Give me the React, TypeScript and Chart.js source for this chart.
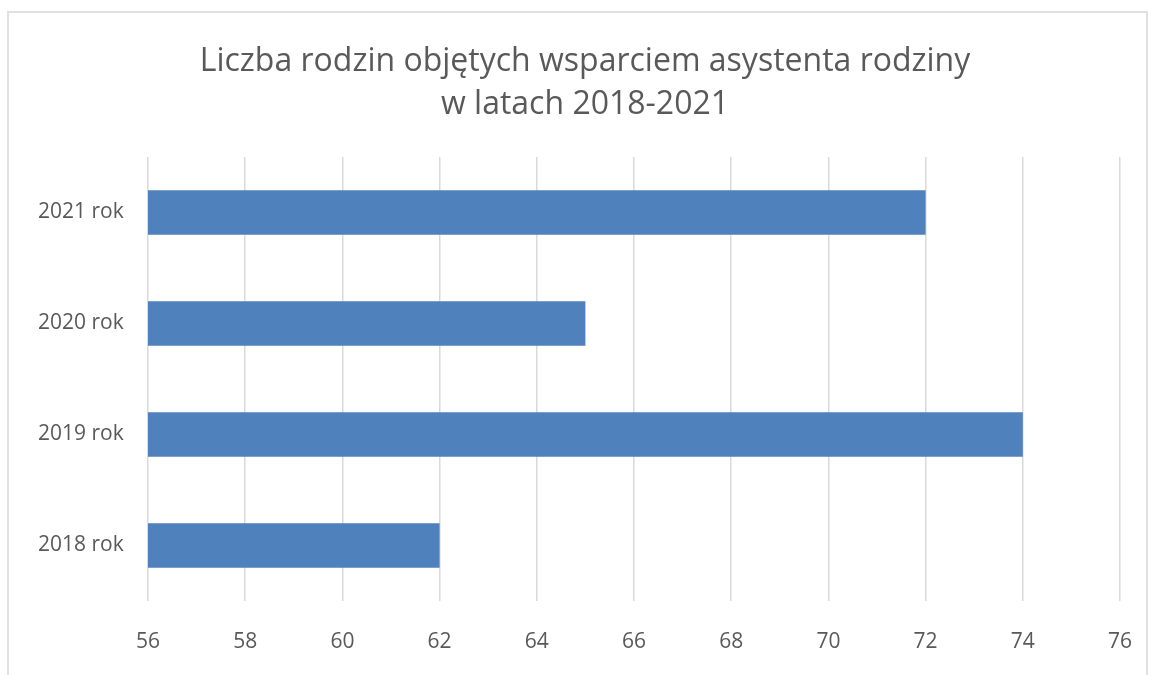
import React, { useEffect, useRef } from "react";
import { Chart, registerables } from "chart.js";

Chart.register(...registerables);

const titleLines = ["Liczba rodzin objętych wsparciem asystenta rodziny", "w latach 2018-2021"];
const categories = ["2018 rok", "2019 rok", "2020 rok", "2021 rok"];
const values = [62, 74, 65, 72];
const xMin = 56;
const xMax = 76;
const xStep = 2;

const FONT = "'Open Sans', Lato, sans-serif";
const TEXT = "#595959";
const GRID = "#d9d9d9";
const BAR = "#4f81bd";

export default function App() {
  const ref = useRef<HTMLCanvasElement | null>(null);

  useEffect(() => {
    if (!ref.current) return;
    const chart = new Chart(ref.current, {
      type: "bar",
      data: {
        labels: categories,
        datasets: [
          {
            data: values,
            backgroundColor: BAR,
            borderWidth: 0,
            barPercentage: 0.4,
            categoryPercentage: 1,
          },
        ],
      },
      options: {
        indexAxis: "y",
        animation: false,
        responsive: false,
        maintainAspectRatio: false,
        layout: { padding: { left: 50, right: 29, top: 0, bottom: 0 } },
        plugins: {
          legend: { display: false },
          tooltip: { enabled: false },
          title: {
            display: true,
            text: titleLines,
            color: TEXT,
            font: { family: FONT, size: 32, weight: "normal", lineHeight: 1.344 },
            padding: { top: 40, bottom: 31 },
          },
        },
        scales: {
          x: {
            type: "linear",
            min: xMin,
            max: xMax,
            ticks: {
              stepSize: xStep,
              color: TEXT,
              font: { family: FONT, size: 21 },
              padding: 0,
            },
            grid: {
              color: GRID,
              lineWidth: 1.5,
              drawTicks: true,
              tickLength: 28,
              tickColor: "rgba(0,0,0,0)",
            },
            border: { display: false },
            afterFit: (s: any) => {
              s.height = 74;
            },
          },
          y: {
            type: "category",
            reverse: true,
            ticks: {
              color: TEXT,
              font: { family: FONT, size: 21 },
              mirror: true,
              crossAlign: "near",
              padding: -110,
            },
            grid: { display: false, drawTicks: false },
            border: { display: false },
            afterFit: (s: any) => {
              s.width = 98;
            },
          },
        },
      },
    });
    return () => chart.destroy();
  }, []);

  return (
    <div style={{ position: "fixed", left: 0, top: 0, width: 1149, height: 675, background: "#fff" }}>
      <div
        style={{
          position: "absolute",
          left: 7,
          top: 11,
          width: 1141,
          height: 680,
          border: "2px solid #e0e0e0",
          boxSizing: "border-box",
        }}
      />
      <canvas ref={ref} width={1149} height={675} style={{ position: "absolute", left: 0, top: 0 }} />
    </div>
  );
}
